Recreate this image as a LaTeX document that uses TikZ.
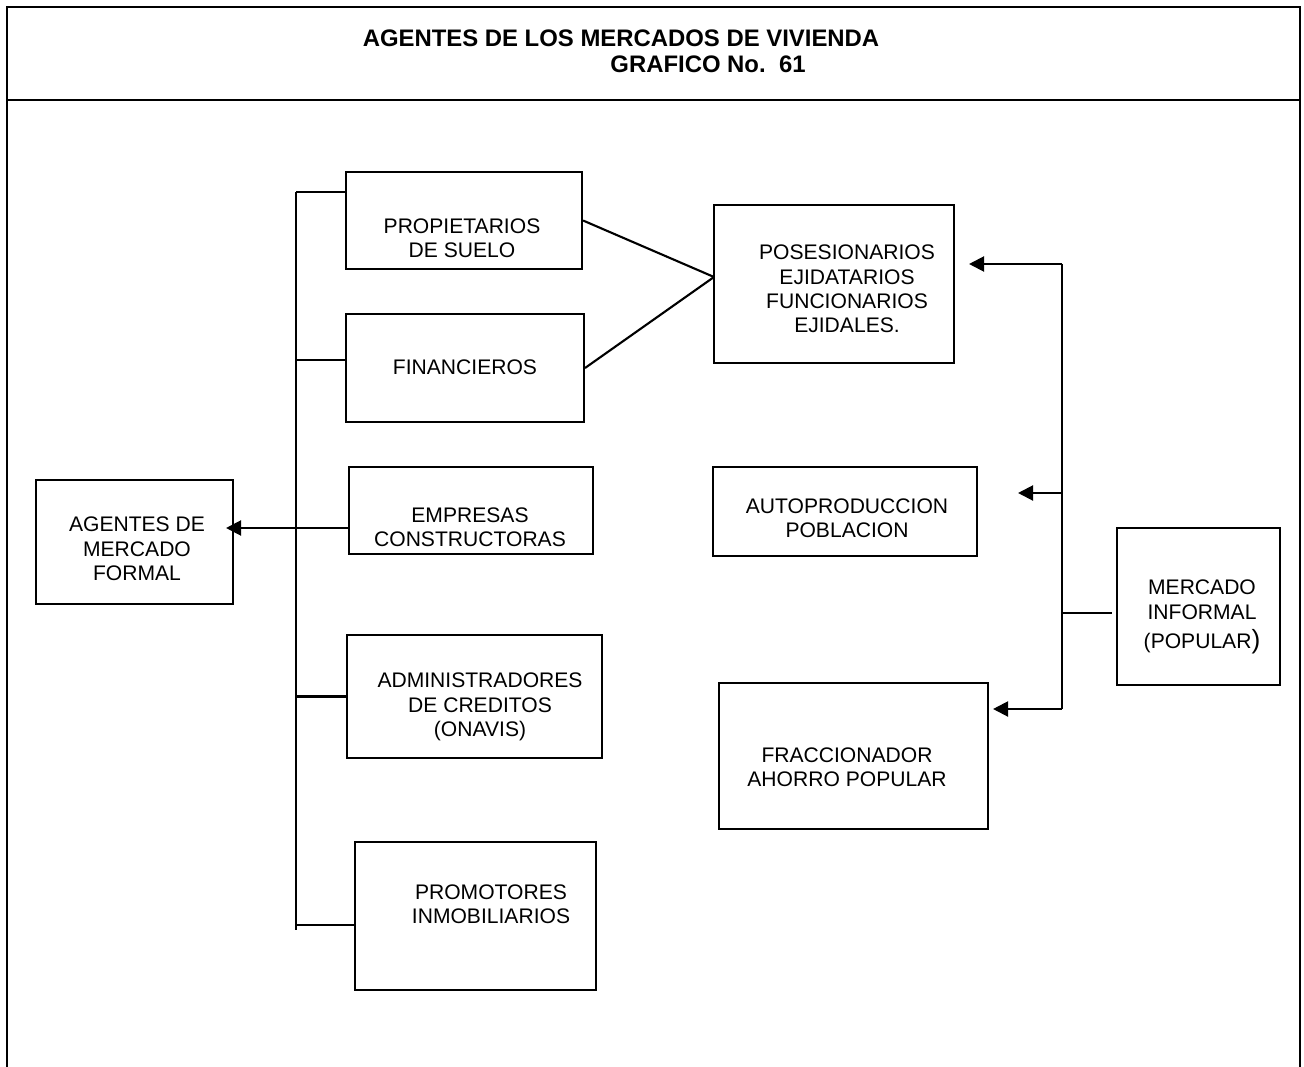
\documentclass[tikz,border=0pt]{standalone}
\usepackage{fontspec}
\setmainfont{Liberation Sans}
\usetikzlibrary{arrows.meta}

\begin{document}
\begin{tikzpicture}[x=0.02cm,y=-0.02cm,
  obj/.style={draw,line width=1.2pt,inner sep=0pt},
  txt/.style={align=center,inner sep=0pt,font=\fontsize{12}{13.9}\selectfont},
  ttl/.style={font=\fontsize{13.6}{15}\selectfont\bfseries,anchor=base},
  ln/.style={line width=1.2pt},
  arr/.style={ln,-{Triangle[length=0.3cm,width=0.3cm]}}]
  \useasboundingbox (0,0) rectangle (1304,1067);
  % marco y titulo
  \draw[ln] (7,1067) -- (7,7) -- (1300,7) -- (1300,1067);
  \draw[ln] (7,100) -- (1300,100);
  \node[ttl] (tit1) at (621,47) {AGENTES DE LOS MERCADOS DE VIVIENDA};
  \node[ttl] (tit2) at (708,73) {GRAFICO No.\ \ 61};
  % mercado formal
  \node[obj,minimum width=3.94cm,minimum height=2.48cm] (formal) at (134.5,542) {};
  \node[txt] (formal-t) at (137,549) {AGENTES DE\\MERCADO\\FORMAL};
  \node[obj,minimum width=4.72cm,minimum height=1.94cm] (prop) at (464,220.5) {};
  \node[txt] (prop-t) at (462,238) {PROPIETARIOS\\DE SUELO};
  \node[obj,minimum width=4.76cm,minimum height=2.16cm] (fin) at (465,368) {};
  \node[txt] (fin-t) at (465,367) {FINANCIEROS};
  \node[obj,minimum width=4.88cm,minimum height=1.74cm] (emp) at (471,510.5) {};
  \node[txt] (emp-t) at (470,527) {EMPRESAS\\CONSTRUCTORAS};
  \node[obj,minimum width=5.10cm,minimum height=2.46cm] (adm) at (474.5,696.5) {};
  \node[txt] (adm-t) at (480,707) {ADMINISTRADORES\\DE CREDITOS\\(ONAVIS)};
  \node[obj,minimum width=4.82cm,minimum height=2.96cm] (prom) at (475.5,916) {};
  \node[txt] (prom-t) at (491,904) {PROMOTORES\\INMOBILIARIOS};
  % mercado informal
  \node[obj,minimum width=4.80cm,minimum height=3.16cm] (pos) at (834,284) {};
  \node[txt] (pos-t) at (847,289) {POSESIONARIOS\\EJIDATARIOS\\FUNCIONARIOS\\EJIDALES.};
  \node[obj,minimum width=5.28cm,minimum height=1.78cm] (auto) at (845,511.5) {};
  \node[txt] (auto-t) at (847,518) {AUTOPRODUCCION\\POBLACION};
  \node[obj,minimum width=5.38cm,minimum height=2.92cm] (frac) at (853.5,756) {};
  \node[txt] (frac-t) at (847,767) {FRACCIONADOR\\AHORRO POPULAR};
  \node[obj,minimum width=3.26cm,minimum height=3.14cm] (inf) at (1198.5,606.5) {};
  \node[txt] (inf-t) at (1202,617)
    {MERCADO\\INFORMAL\\[3pt](POPULAR{\fontsize{15}{15}\selectfont)}};
  % llaves
  \coordinate (ltop) at (296,192);
  \coordinate (lfin) at (296,360);
  \coordinate (lemp) at (296,528);
  \coordinate (lprom) at (296,925);
  \coordinate (lbot) at (296,930);
  \draw[ln] (ltop) -- (lbot);
  \draw[ln] (ltop) -- (ltop -| prop.west);
  \draw[ln] (lfin) -- (lfin -| fin.west);
  \draw[ln] (ltop |- adm.west) -- (adm.west);
  \draw[ln] (lprom) -- (lprom -| prom.west);
  \draw[arr,shorten >=-0.16cm] (lemp -| emp.west) -- (lemp -| formal.east);
  \coordinate (join) at (714,277);
  \draw[ln] (prop.east) -- (join);
  \draw[ln] (fin.east) -- (join);
  \coordinate (rtop) at (1062,264);
  \coordinate (rauto) at (1062,493);
  \coordinate (rinf) at (1062,613);
  \coordinate (rbot) at (1062,709);
  \draw[ln] (rtop) -- (rbot);
  \draw[arr,shorten >=0.28cm] (rtop) -- (rtop -| pos.east);
  \draw[arr,shorten >=0.8cm] (rauto) -- (rauto -| auto.east);
  \draw[arr,shorten >=0.08cm] (rbot) -- (rbot -| frac.east);
  \draw[ln,shorten >=0.08cm] (rinf) -- (rinf -| inf.west);
\end{tikzpicture}
\end{document}
